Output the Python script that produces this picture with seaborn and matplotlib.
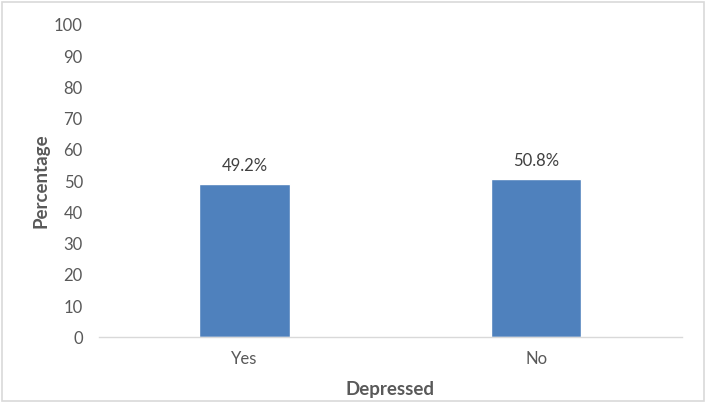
import numpy as np
import pandas as pd
import matplotlib
matplotlib.use('Agg')
import matplotlib.pyplot as plt
import seaborn as sns


# ========== Data ==========

categories = ['Yes', 'No']
percentages = [49.2, 50.8]
bar_labels = ['49.2%', '50.8%']
y_ticks = list(range(0, 101, 10))


# ========== Plot ==========

sns.set_style('white')
plt.rcParams['font.family'] = ['Lato', 'DejaVu Sans']

text_col = '#595959'
df = pd.DataFrame({'Depressed': categories, 'Percentage': percentages})

fig = plt.figure(figsize=(7.06, 4.03), dpi=100)
ax = fig.add_axes([0.140, 0.163, 0.826, 0.775])

sns.barplot(data=df, x='Depressed', y='Percentage', color='#4F81BD',
            saturation=1, width=0.31, ax=ax)

## data labels above bars
for cont in ax.containers:
    ax.bar_label(cont, labels=bar_labels, padding=7, fontsize=12, color='#404040')

ax.set_ylim(0, 100)
ax.set_xlim(-0.5, 1.5)
ax.set_yticks(y_ticks)
ax.tick_params(axis='y', length=0, labelsize=12, labelcolor=text_col, pad=11.5)
ax.tick_params(axis='x', which='major', length=0, labelsize=12, labelcolor=text_col, pad=10)
ax.set_xticks([-0.5, 0.5, 1.5], minor=True)
ax.tick_params(axis='x', which='minor', length=5, color='#D9D9D9', width=1)

for side in ['top', 'right', 'left']:
    ax.spines[side].set_visible(False)
ax.spines['bottom'].set_color('#D9D9D9')
ax.spines['bottom'].set_linewidth(1)

ax.set_xlabel('Depressed', fontsize=13.5, fontweight='bold', color=text_col, labelpad=10)
ax.set_ylabel('Percentage', fontsize=13.5, fontweight='bold', color=text_col, labelpad=3)

## light frame round the whole chart
fig.patches.append(plt.Rectangle((0.003, 0.004), 0.994, 0.992, transform=fig.transFigure,
                                 fill=False, edgecolor='#D9D9D9', linewidth=1.2))

fig.savefig('out.png', dpi=100)
